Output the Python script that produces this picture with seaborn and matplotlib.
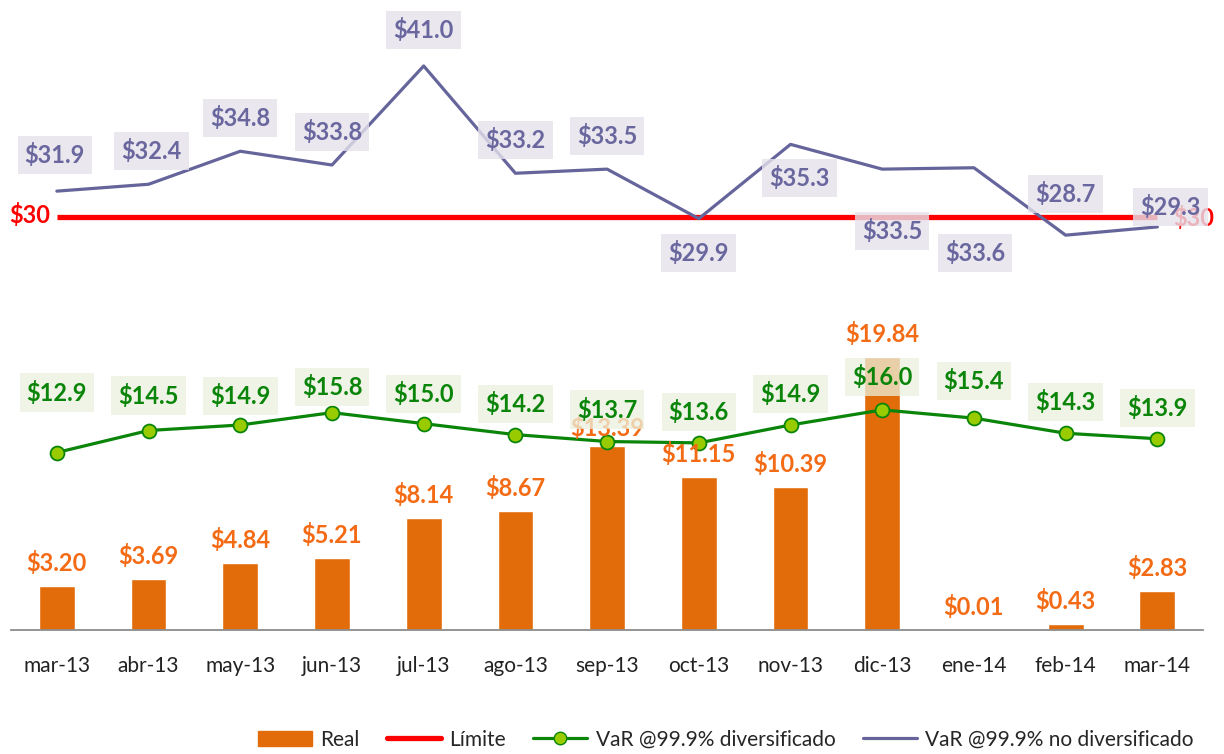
import numpy as np
import pandas as pd
import matplotlib
matplotlib.use("Agg")
import matplotlib.pyplot as plt
import seaborn as sns
from matplotlib.lines import Line2D
from matplotlib.patches import Patch

# Data
months = ["mar-13", "abr-13", "may-13", "jun-13", "jul-13", "ago-13", "sep-13",
          "oct-13", "nov-13", "dic-13", "ene-14", "feb-14", "mar-14"]
real = [3.20, 3.69, 4.84, 5.21, 8.14, 8.67, 13.39, 11.15, 10.39, 19.84, 0.01, 0.43, 2.83]
var_div = [12.9, 14.5, 14.9, 15.8, 15.0, 14.2, 13.7, 13.6, 14.9, 16.0, 15.4, 14.3, 13.9]
var_nodiv = [31.9, 32.4, 34.8, 33.8, 41.0, 33.2, 33.5, 29.9, 35.3, 33.5, 33.6, 28.7, 29.3]
limite = [30] * 13

# label offsets (pixels) - placement only
nodiv_off = [(-2, 36), (3, 33), (0, 33), (0, 33), (0, 36), (0, 33), (0, 33),
             (0, -34), (9, -34), (10, -62), (1, -85), (0, 41), (13, 20)]
div_off = [(0, 60), (0, 35), (0, 29), (0, 26), (0, 30), (0, 31), (0, 32),
           (0, 31), (0, 31), (0, 33), (0, 37), (0, 31), (0, 31)]
real_off = [23] * 6 + [18] + [23] * 6

df = pd.DataFrame({"x": np.arange(len(months)), "mes": months, "Real": real,
                   "div": var_div, "nodiv": var_nodiv, "lim": limite})

sns.set_style("white")
plt.rcParams["font.family"] = ["Lato", "DejaVu Sans"]

ORANGE = "#E36C0A"
ORANGE_TXT = "#F46B16"
RED = "#FF0000"
GREEN = "#0A850A"
LIME = "#99CC00"
PURPLE = "#65659C"
PURPLE_TXT = "#6A679F"

fig = plt.figure(figsize=(12.24, 7.54), dpi=100)
ax = fig.add_axes([0.009, 0.1645, 0.974, 0.821])

sns.barplot(data=df, x="x", y="Real", color=ORANGE, width=0.39, saturation=1,
            ax=ax, native_scale=True, zorder=2)
ax.plot(df["x"], df["lim"], color=RED, lw=3.8, solid_capstyle="butt", zorder=3)
sns.lineplot(data=df, x="x", y="nodiv", color=PURPLE, lw=2.3, ax=ax, zorder=4)
sns.lineplot(data=df, x="x", y="div", color=GREEN, lw=2.3, ax=ax, zorder=5,
             marker="o", markersize=10, markerfacecolor=LIME,
             markeredgecolor=GREEN, markeredgewidth=1.3)

# limit labels
ax.annotate("$30", (0, 30), xytext=(-7, 2), textcoords="offset pixels",
            ha="right", va="center", color=RED, fontsize=17, fontweight="bold", zorder=3)
ax.annotate("$30", (12, 30), xytext=(16, -1), textcoords="offset pixels",
            ha="left", va="center", color=RED, fontsize=17, fontweight="bold", zorder=3)

for i in range(len(months)):
    ax.annotate(f"${real[i]:.2f}", (i, real[i]), xytext=(0, real_off[i]),
                textcoords="offset pixels", ha="center", va="center",
                color=ORANGE_TXT, fontsize=17, fontweight="bold", zorder=6)
    ax.annotate(f"${var_div[i]:.1f}", (i, var_div[i]), xytext=div_off[i],
                textcoords="offset pixels", ha="center", va="center",
                color=GREEN, fontsize=17, fontweight="bold", zorder=7,
                bbox=dict(boxstyle="square,pad=0.3", fc="#EBF1DE", ec="none", alpha=0.75))
    ax.annotate(f"${var_nodiv[i]:.1f}", (i, var_nodiv[i]), xytext=nodiv_off[i],
                textcoords="offset pixels", ha="center", va="center",
                color=PURPLE_TXT, fontsize=17, fontweight="bold", zorder=7,
                bbox=dict(boxstyle="square,pad=0.3", fc="#E5E2EC", ec="none", alpha=0.8))

ax.set_xlim(-0.5, 12.5)
ax.set_ylim(0, 45)
ax.set_xticks(df["x"])
ax.set_xticklabels(months, fontsize=15, color="#222222")
ax.set_xticks(np.arange(-0.5, 13, 1), minor=True)
ax.tick_params(axis="x", which="major", length=0, pad=19)
ax.tick_params(axis="x", which="minor", length=7, width=1.3, color="#8C8C8C", direction="out")
ax.set_yticks([])
ax.set_xlabel("")
ax.set_ylabel("")
for s in ["top", "right", "left"]:
    ax.spines[s].set_visible(False)
ax.spines["bottom"].set_color("#8C8C8C")
ax.spines["bottom"].set_linewidth(1.3)

handles = [
    Patch(color=ORANGE, label="Real"),
    Line2D([], [], color=RED, lw=3.8, label="Límite"),
    Line2D([], [], color=GREEN, lw=2.3, marker="o", markersize=9,
           markerfacecolor=LIME, markeredgecolor=GREEN, label="VaR @99.9% diversificado"),
    Line2D([], [], color=PURPLE, lw=2.3, label="VaR @99.9% no diversificado"),
]
fig.legend(handles=handles, loc="center", bbox_to_anchor=(0.593, 0.019), ncol=4,
           frameon=False, fontsize=15, handlelength=2.6, handleheight=0.7,
           columnspacing=1.3, handletextpad=0.4)

fig.savefig("out.png", dpi=100)
